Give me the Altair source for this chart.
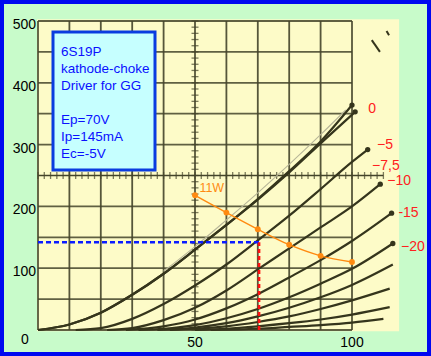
import altair as alt
import pandas as pd
import numpy as np

# ---------------- data (Ep in V, Ip in mA) ----------------
ep_g0a = [0, 10, 20, 30, 40, 50, 60, 70, 80, 90, 100]
ip_g0a = [0, 9, 28, 57, 91, 130, 170, 212, 257, 305, 364]
ep_g0b = [0, 10, 20, 30, 40, 50, 60, 70, 80, 90, 101]
ip_g0b = [0, 9, 28, 57, 91, 130, 170, 211, 255, 302, 353]
ep_g5 = [12, 20, 30, 40, 50, 60, 70, 80, 90, 100, 105]
ip_g5 = [0, 3, 18, 42, 72, 106, 145, 185, 228, 272, 292]
ep_g10 = [22, 30, 40, 50, 60, 70, 80, 90, 100, 109]
ip_g10 = [0, 3, 16, 36, 64, 98, 132, 166, 200, 236]
ep_g15 = [28, 40, 50, 60, 70, 80, 90, 100, 112.6]
ip_g15 = [0, 6, 17, 35, 58, 85, 113, 144, 189]
ep_g20 = [32, 40, 50, 60, 70, 80, 90, 100, 113]
ip_g20 = [0, 2, 8, 19, 34, 53, 75, 99, 140]
ep_g25 = [38, 50, 60, 70, 80, 90, 100, 113]
ip_g25 = [0, 4, 11, 22, 36, 53, 73, 106]
ep_g30 = [42, 50, 60, 70, 80, 90, 100, 112]
ip_g30 = [0, 2, 6, 13, 22, 34, 48, 67]
ep_g35 = [50, 60, 70, 80, 90, 100, 112]
ip_g35 = [0, 2, 6, 11, 17, 25, 37]
ep_g40 = [55, 70, 80, 90, 100, 110]
ip_g40 = [0, 2, 5, 8, 12, 18]

ep_ghost = [40, 50, 60, 70, 80, 90, 98]
ip_ghost = [95, 135, 178, 222, 268, 316, 356]

# 11 W plate dissipation line
ep_11w = [50, 60, 70, 80, 90, 100]
ip_11w = [218, 190, 163, 138, 120, 110]

# operating point
op_ep = 70.4
op_ip = 142

# grid-bias labels
bias_labels = ["0", "\u22125", "\u22127,5", "\u221210", "-15", "\u221220"]
bias_ep = [106.4, 110.5, 110.8, 115.0, 118.0, 119.4]
bias_ip = [358, 299, 265, 241, 189, 135]

# axis tick labels
x_tick_labels = [50, 100]
y_tick_labels = [100, 200, 300, 400, 500]

info_lines = ["6S19P", "kathode-choke", "Driver for GG", "", "Ep=70V", "Ip=145mA", "Ec=-5V"]

# scan scratch marks near top right
scratch_id = ["a", "a", "b", "b"]
scratch_ep = [106.3, 108.9, 111.0, 111.8]
scratch_ip = [469, 450, 484, 477]

# ---------------- build tables ----------------
curve_sets = [
    ("0a", ep_g0a, ip_g0a), ("0b", ep_g0b, ip_g0b), ("-5", ep_g5, ip_g5),
    ("-10", ep_g10, ip_g10), ("-15", ep_g15, ip_g15), ("-20", ep_g20, ip_g20),
    ("-25", ep_g25, ip_g25), ("-30", ep_g30, ip_g30), ("-35", ep_g35, ip_g35),
    ("-40", ep_g40, ip_g40),
]
rows = []
for name, eps, ips in curve_sets:
    for i, (e, p) in enumerate(zip(eps, ips)):
        rows.append({"curve": name, "ep": e, "ip": p, "order": i})
curves = pd.DataFrame(rows)
tips = pd.DataFrame([{"curve": n, "ep": e[-1], "ip": p[-1]} for n, e, p in curve_sets[:6]])
ghost = pd.DataFrame({"ep": ep_ghost, "ip": ip_ghost})
w11 = pd.DataFrame({"ep": ep_11w, "ip": ip_11w})
bias = pd.DataFrame({"label": bias_labels, "ep": bias_ep, "ip": bias_ip})
xt = pd.DataFrame({"v": x_tick_labels})
yt = pd.DataFrame({"v": y_tick_labels})
scratch = pd.DataFrame({"id": scratch_id, "ep": scratch_ep, "ip": scratch_ip})
info = pd.DataFrame({"t": info_lines, "row": list(range(len(info_lines)))})

vgrid = pd.DataFrame({"ep": list(range(0, 101, 10)), "lo": 0, "hi": 500})
hgrid = pd.DataFrame({"ip": [v for v in range(0, 501, 50) if v != 250], "lo": 0, "hi": 100})
xticks250 = pd.DataFrame({"ep": np.arange(0, 111, 2), "ip": 250})
yticks50 = pd.DataFrame({"ip": np.arange(0, 501, 10), "ep": 50})
one = pd.DataFrame({"k": [0]})

XS = alt.Scale(domain=[0, 115], range=[38, 399.1], nice=False, zero=False)
YS = alt.Scale(domain=[0, 500], range=[330, 21], nice=False, zero=False)

def X(f="ep"):
    return alt.X(f"{f}:Q", scale=XS, axis=None)

def Y(f="ip"):
    return alt.Y(f"{f}:Q", scale=YS, axis=None)

GRID = "#44442a"
INK = "#35351c"

border = alt.Chart(one).mark_rect(filled=False, stroke="#0008f0", strokeWidth=4).encode(
    x=alt.value(2), x2=alt.value(429), y=alt.value(2), y2=alt.value(354))

paper = alt.Chart(pd.DataFrame({"a": [-0.3], "b": [115], "c": [-2], "d": [503]})).mark_rect(
    color="#fdfbc8").encode(x=X("a"), x2="b:Q", y=Y("c"), y2="d:Q")

vlines = alt.Chart(vgrid).mark_rule(color=GRID, strokeWidth=1.8, opacity=0.9).encode(
    x=X(), y=Y("lo"), y2="hi:Q")
hlines = alt.Chart(hgrid).mark_rule(color=GRID, strokeWidth=1.8, opacity=0.85).encode(
    y=Y(), x=X("lo"), x2="hi:Q")
row250 = alt.Chart(pd.DataFrame({"a": [0], "b": [110], "ip": [250]})).mark_rule(
    color=GRID, strokeWidth=1.6).encode(x=X("a"), x2="b:Q", y=Y())
t250 = alt.Chart(xticks250).mark_tick(orient="vertical", size=7, thickness=1.3, color=GRID).encode(
    x=X(), y=Y())
t50 = alt.Chart(yticks50).mark_tick(orient="horizontal", size=7, thickness=1.3, color=GRID).encode(
    x=X(), y=Y())

ghost_line = alt.Chart(ghost).mark_line(color="#b8b698", strokeWidth=1.1, interpolate="monotone").encode(
    x=X(), y=Y())

curve_lines = alt.Chart(curves).mark_line(color=INK, strokeWidth=2.2, interpolate="monotone").encode(
    x=X(), y=Y(), detail="curve:N", order="order:Q")
tip_pts = alt.Chart(tips).mark_point(filled=True, color=INK, size=28, opacity=1).encode(x=X(), y=Y())

scratch_lines = alt.Chart(scratch).mark_line(color=INK, strokeWidth=2).encode(
    x=X(), y=Y(), detail="id:N")

w_line = alt.Chart(w11).mark_line(color="#ff8a10", strokeWidth=1.4, interpolate="monotone").encode(
    x=X(), y=Y())
w_pts = alt.Chart(w11).mark_point(filled=True, color="#ff8a10", size=34, opacity=1).encode(x=X(), y=Y())
w_lab = alt.Chart(pd.DataFrame({"t": ["11W"], "ep": [51.4], "ip": [230]})).mark_text(
    color="#ff8a10", align="left", baseline="middle", fontSize=12.5, font="Liberation Sans").encode(
    x=X(), y=Y(), text="t:N")

blue = alt.Chart(pd.DataFrame({"a": [0], "b": [op_ep], "ip": [op_ip]})).mark_rule(
    color="#0a1cff", strokeWidth=2.6, strokeDash=[5, 3]).encode(x=X("a"), x2="b:Q", y=Y())
red = alt.Chart(pd.DataFrame({"ep": [op_ep], "a": [0], "b": [op_ip]})).mark_rule(
    color="#ff1010", strokeWidth=2.6, strokeDash=[4, 3]).encode(x=X(), y=Y("a"), y2="b:Q")

box = alt.Chart(one).mark_rect(fill="#c6ffff", stroke="#0a3ce0", strokeWidth=3).encode(
    x=alt.value(53), x2=alt.value(155), y=alt.value(32), y2=alt.value(170))
box_text = alt.Chart(info).transform_calculate(py="52 + 17 * datum.row").mark_text(
    align="left", baseline="middle", color="#0a10ff", fontSize=13.5, font="Liberation Sans").encode(
    x=alt.value(61), y=alt.Y("py:Q", scale=None, axis=None), text="t:N")

bias_txt = alt.Chart(bias).mark_text(color="#ff2020", fontSize=14, font="Liberation Sans",
                                     align="center", baseline="middle").encode(
    x=X(), y=Y(), text="label:N")

xlab = alt.Chart(xt).mark_text(fontSize=14, font="Liberation Sans", color="#000",
                               baseline="middle").encode(x=X("v"), y=alt.value(343), text="v:Q")
ylab = alt.Chart(yt).mark_text(fontSize=14, font="Liberation Sans", color="#000",
                               align="right", baseline="middle", dy=4).encode(
    x=alt.value(36), y=Y("v"), text="v:Q")
zlab = alt.Chart(pd.DataFrame({"t": ["0"]})).mark_text(
    fontSize=14, font="Liberation Sans", color="#000").encode(
    x=alt.value(25), y=alt.value(340), text="t:N")

chart = alt.layer(
    paper, vlines, hlines, row250, t250, t50, ghost_line, curve_lines, tip_pts, scratch_lines,
    w_line, w_pts, w_lab, blue, red, box, box_text, bias_txt, xlab, ylab, zlab, border
).properties(
    width=431, height=356, padding=0, autosize=alt.AutoSizeParams(type="none"),
    background="#c8fbca"
).configure_view(stroke=None)

chart.save("out.html", embed_options={"renderer": "svg", "actions": False})
